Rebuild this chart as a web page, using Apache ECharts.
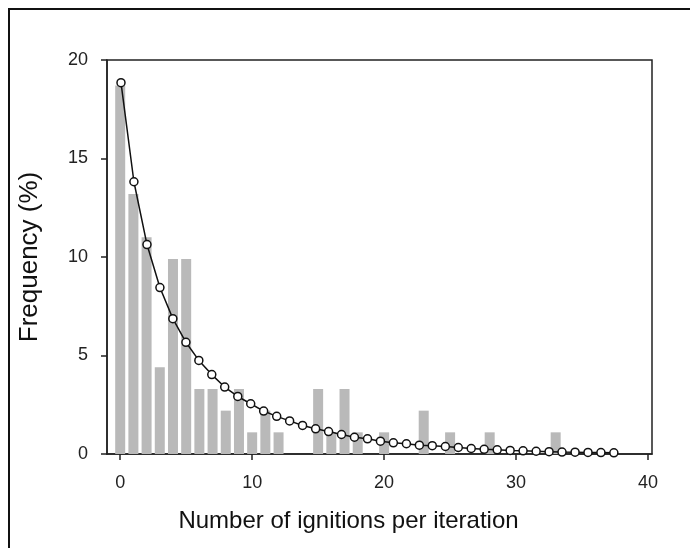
<!DOCTYPE html>
<html>
<head>
<meta charset="utf-8">
<script src="https://cdn.jsdelivr.net/npm/echarts@6/dist/echarts.min.js"></script>
<style>
  html, body { margin: 0; padding: 0; background: #fff; }
  #chart { width: 690px; height: 548px; }
</style>
</head>
<body>
<div id="chart"></div>
<script>
// histogram of observed ignitions (%)
const barX = [0, 1, 2, 3, 4, 5, 6, 7, 8, 9, 10, 11, 12, 15, 16, 17, 18, 20, 23, 25, 28, 33]
const barY = [18.7, 13.2, 11.0, 4.4, 9.9, 9.9, 3.3, 3.3, 2.2, 3.3, 1.1, 2.2, 1.1, 3.3, 1.1, 3.3, 1.1, 1.1, 2.2, 1.1, 1.1, 1.1]

// fitted curve points
const fitX = [0.06, 1.04, 2.03, 3.01, 3.99, 4.98, 5.96, 6.94, 7.92, 8.91, 9.89, 10.87, 11.86, 12.84,
  13.82, 14.81, 15.79, 16.77, 17.75, 18.74, 19.72, 20.7, 21.69, 22.67, 23.65, 24.64, 25.62, 26.6,
  27.58, 28.57, 29.55, 30.53, 31.52, 32.5, 33.48, 34.47, 35.45, 36.43, 37.41]
const fitY = [18.85, 13.82, 10.63, 8.45, 6.87, 5.67, 4.75, 4.03, 3.40, 2.92, 2.55, 2.18, 1.91, 1.68,
  1.45, 1.28, 1.14, 0.99, 0.85, 0.77, 0.65, 0.57, 0.52, 0.45, 0.42, 0.38, 0.33, 0.28,
  0.24, 0.21, 0.18, 0.16, 0.14, 0.12, 0.10, 0.09, 0.08, 0.07, 0.06]

const xTicks = [0, 10, 20, 30, 40]

const font = 'Liberation Sans, Arial, sans-serif'
const axisColor = '#222'

const chart = echarts.init(document.getElementById('chart'), null, { renderer: 'canvas' })

const option = {
  backgroundColor: '#fff',
  animation: false,
  graphic: [{
    type: 'rect',
    shape: { x: 9, y: 9, width: 720, height: 600 },
    style: { fill: 'none', stroke: '#111', lineWidth: 2 },
    silent: true
  }],
  grid: {
    left: 107,
    right: 38,
    top: 60,
    bottom: 94,
    show: true,
    backgroundColor: 'transparent',
    borderColor: axisColor,
    borderWidth: 1.5
  },
  xAxis: {
    type: 'value',
    min: -1,
    max: 40.3,
    name: 'Number of ignitions per iteration',
    nameLocation: 'middle',
    nameGap: 55,
    nameTextStyle: { fontFamily: font, fontSize: 24, color: '#111', padding: [0, 62, 0, 0] },
    axisLine: { show: true, onZero: false, lineStyle: { color: axisColor, width: 1.5 } },
    axisTick: { show: true, length: 6, customValues: xTicks, lineStyle: { color: axisColor, width: 1.5 } },
    axisLabel: { customValues: xTicks, margin: 20, fontFamily: font, fontSize: 18, color: '#222' },
    splitLine: { show: false }
  },
  yAxis: {
    type: 'value',
    min: 0,
    max: 20,
    interval: 5,
    name: 'Frequency (%)',
    nameLocation: 'middle',
    nameGap: 64,
    nameTextStyle: { fontFamily: font, fontSize: 26, color: '#111' },
    axisLine: { show: true, onZero: false, lineStyle: { color: axisColor, width: 1.5 } },
    axisTick: { show: true, length: 6, lineStyle: { color: axisColor, width: 1.5 } },
    axisLabel: { margin: 19, fontFamily: font, fontSize: 18, color: '#222' },
    splitLine: { show: false }
  },
  series: [{
    type: 'bar',
    data: barX.map((x, i) => [x, barY[i]]),
    barWidth: 10,
    itemStyle: { color: '#b9b9b9' },
    z: 1
  }, {
    type: 'line',
    data: fitX.map((x, i) => [x, fitY[i]]),
    symbol: 'circle',
    symbolSize: 8,
    showSymbol: true,
    lineStyle: { color: '#111', width: 1.5 },
    itemStyle: { color: '#fff', borderColor: '#111', borderWidth: 1.5 },
    z: 3
  }]
}

chart.setOption(option)
</script>
</body>
</html>
